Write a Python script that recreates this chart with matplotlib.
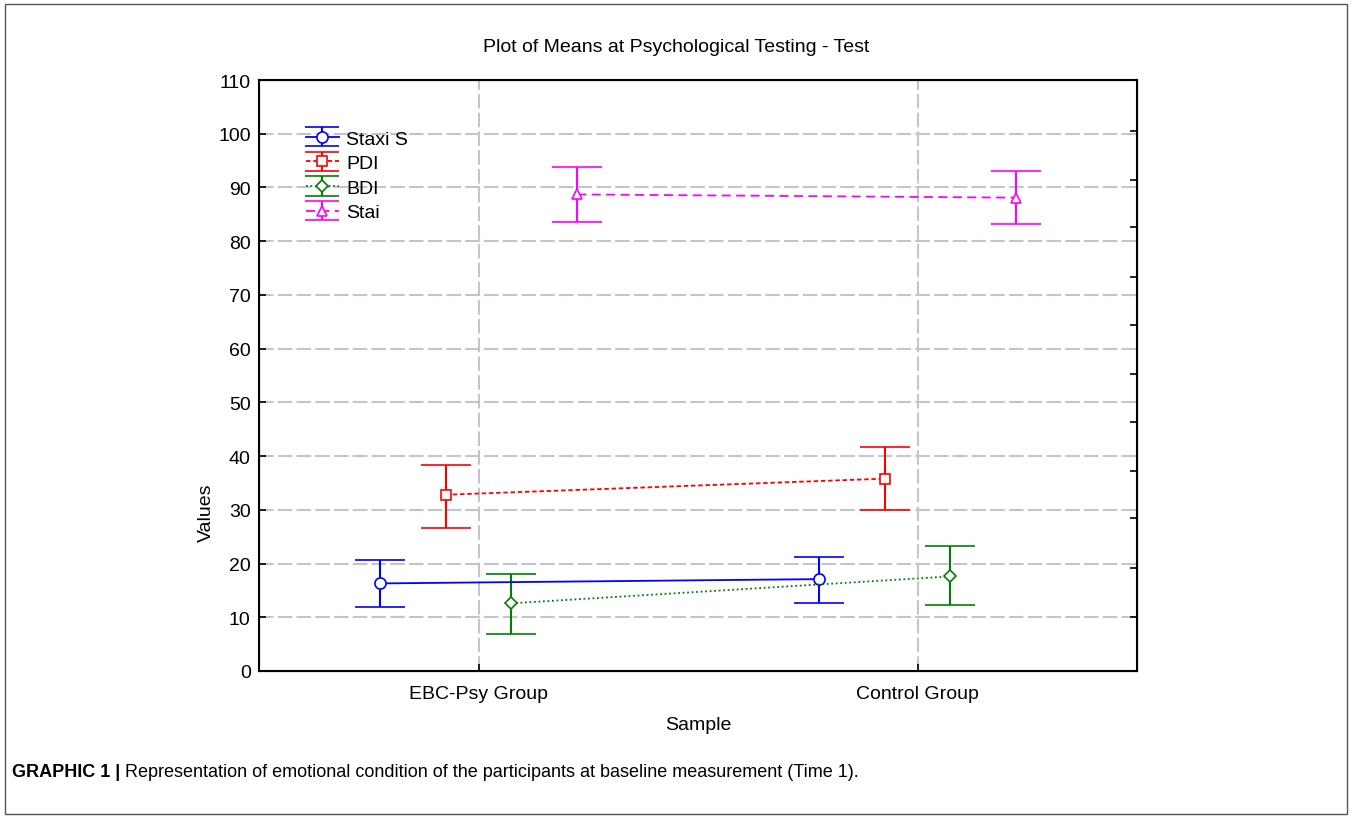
import numpy as np
from matplotlib import pyplot as plt
from matplotlib.patches import Rectangle
from matplotlib.container import ErrorbarContainer
from matplotlib.legend_handler import HandlerErrorbar

plt.rcParams['font.family'] = ['Liberation Sans', 'DejaVu Sans']

groups = ['EBC-Psy Group', 'Control Group']
series = ['Staxi S', 'PDI', 'BDI', 'Stai']
means = {
    'Staxi S': [16.3, 17.1],
    'PDI': [32.8, 35.8],
    'BDI': [12.6, 17.6],
    'Stai': [88.7, 88.1],
}
upper = {
    'Staxi S': [20.6, 21.3],
    'PDI': [38.4, 41.7],
    'BDI': [18.0, 23.2],
    'Stai': [93.9, 93.1],
}
lower = {
    'Staxi S': [11.9, 12.6],
    'PDI': [26.7, 29.9],
    'BDI': [6.9, 12.2],
    'Stai': [83.5, 83.2],
}
yticks = list(range(0, 111, 10))
right_ticks = [10.0, 19.1, 28.4, 37.3, 46.4, 55.3, 64.4, 73.3, 82.6, 91.3, 100.6]

colors = {'Staxi S': '#0000ff', 'PDI': '#ff0000', 'BDI': '#008000', 'Stai': '#ff00ff'}
markers = {'Staxi S': 'o', 'PDI': 's', 'BDI': 'D', 'Stai': '^'}
msizes = {'Staxi S': 8, 'PDI': 7, 'BDI': 6, 'Stai': 7}
styles = {'Staxi S': '-', 'PDI': (0, (2.5, 1.5)), 'BDI': (0, (1, 1.5)), 'Stai': (0, (5, 3))}
offsets = [-0.225, -0.075, 0.075, 0.225]

fig = plt.figure(figsize=(13.52, 8.2), dpi=100)
fig.patches.append(Rectangle((5/1352, 5/820), 1342/1352, 810/820, transform=fig.transFigure,
                             fill=False, edgecolor='#555555', linewidth=1))
ax = fig.add_axes([259/1352, 1 - 672/820, 878/1352, 591/820])

base = np.arange(len(groups))
grid_kw = dict(color='#c4c4d0', linewidth=1.5, dashes=(7, 2), zorder=0)
for v in yticks[1:-1]:
    ax.axhline(v, **grid_kw)
for b in base:
    ax.axvline(b, **grid_kw)

for name, off in zip(series, offsets):
    m = np.array(means[name])
    err = [m - np.array(lower[name]), np.array(upper[name]) - m]
    ax.errorbar(base + off, m, yerr=err, color=colors[name], linestyle=styles[name],
                linewidth=1.3, elinewidth=1.5, capsize=18, capthick=1.5,
                marker=markers[name], markersize=msizes[name], mfc='white',
                mec=colors[name], mew=1.2, label=name, zorder=3)

ax.set_xlim(-0.5, 1.5)
ax.set_ylim(0, 110)
ax.set_yticks(yticks)
ax.set_xticks(base)
ax.set_xticklabels(groups)
ax.tick_params(axis='both', direction='in', labelsize=14, length=5, width=1.2)
ax.tick_params(axis='x', pad=10)
ax.tick_params(axis='y', pad=6)
for s in ax.spines.values():
    s.set_linewidth(1.5)

ax2 = ax.twinx()
ax2.set_ylim(0, 110)
ax2.set_yticks(right_ticks)
ax2.set_yticklabels([])
ax2.tick_params(axis='y', direction='in', length=5, width=1.2)

ax.set_xlabel('Sample', fontsize=14, labelpad=10)
ax.set_ylabel('Values', fontsize=14)
ax.yaxis.set_label_coords(-0.05, 0.27)
fig.text(0.5, 1 - 48/820, 'Plot of Means at Psychological Testing - Test', ha='center',
         va='center', fontsize=14)


def legend_prop(handle, orig):
    handle.update_from(orig)
    if hasattr(orig, 'get_marker') and orig.get_marker() == '_':
        handle.set_markersize(24)


leg = ax.legend(loc='upper left', bbox_to_anchor=(0.042, 0.932), frameon=False, fontsize=14,
                handlelength=1.7, handletextpad=0.4, labelspacing=0.36, borderpad=0,
                handler_map={ErrorbarContainer: HandlerErrorbar(update_func=legend_prop)})

cap_y = 1 - 773/820
t1 = fig.text(12/1352, cap_y, 'GRAPHIC 1 |', fontsize=13, fontweight='bold', va='center')
fig.canvas.draw()
bb = t1.get_window_extent()
fig.text((bb.x1 + 5) / 1352, cap_y,
         'Representation of emotional condition of the participants at baseline measurement (Time 1).',
         fontsize=13, va='center')

fig.savefig('out.png', dpi=100)
